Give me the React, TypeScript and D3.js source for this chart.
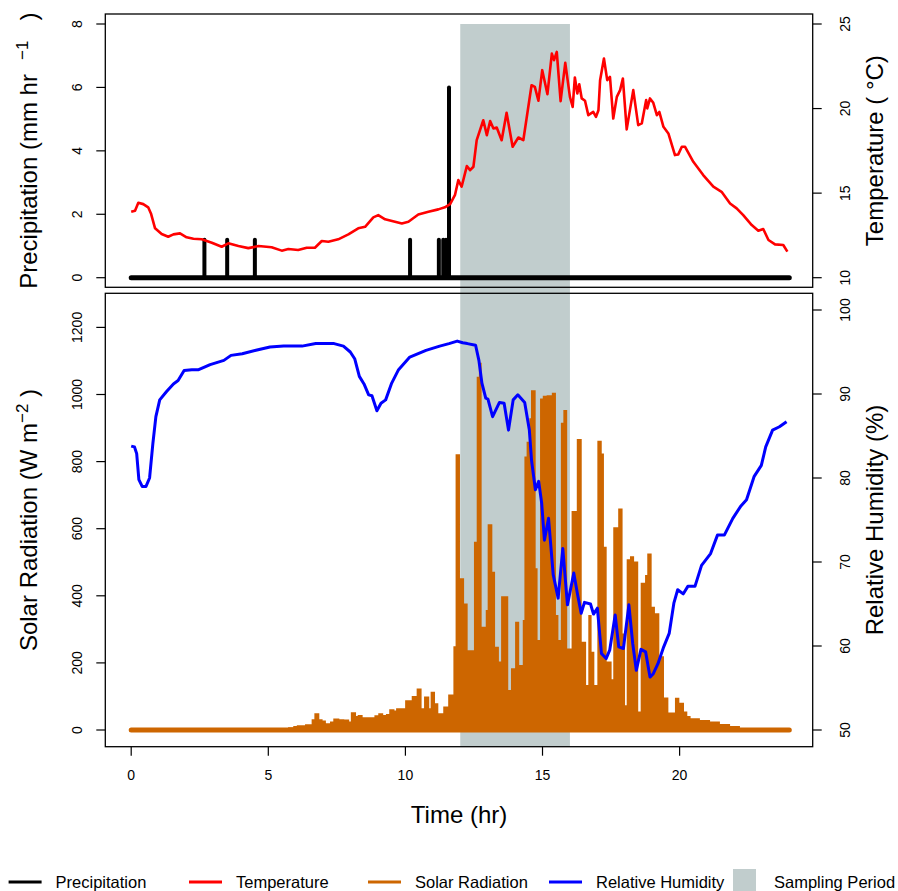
import * as d3 from "d3";

// hours of the day
const tempTime = [0, 0.14, 0.26, 0.44, 0.62, 0.72, 0.87, 1.11, 1.35, 1.54, 1.78, 2.02, 2.27, 2.57, 2.94, 3.3, 3.54, 3.91, 4.27, 4.64, 5.12, 5.49, 5.73, 6.09, 6.4, 6.7, 6.95, 7.19, 7.55, 7.92, 8.28, 8.53, 8.83, 9.01, 9.26, 9.62, 9.87, 10.11, 10.47, 10.84, 11.2, 11.44, 11.63, 11.81, 11.93, 12.05, 12.24, 12.36, 12.48, 12.6, 12.84, 12.97, 13.09, 13.21, 13.33, 13.51, 13.69, 13.91, 14.12, 14.3, 14.6, 14.72, 14.85, 14.99, 15.18, 15.34, 15.42, 15.52, 15.66, 15.83, 16.0, 16.1, 16.18, 16.27, 16.34, 16.43, 16.55, 16.67, 16.85, 16.95, 17.04, 17.1, 17.24, 17.36, 17.46, 17.58, 17.71, 17.83, 17.93, 18.07, 18.31, 18.49, 18.62, 18.78, 18.82, 18.92, 19.04, 19.17, 19.26, 19.41, 19.59, 19.83, 19.95, 20.08, 20.2, 20.5, 20.86, 21.23, 21.53, 21.84, 22.08, 22.32, 22.63, 22.87, 23.05, 23.24, 23.48, 23.78, 23.93];
const tempValue = [13.9, 13.96, 14.43, 14.35, 14.16, 13.8, 12.92, 12.58, 12.42, 12.56, 12.62, 12.39, 12.3, 12.27, 12.07, 11.83, 12.03, 11.87, 11.75, 11.87, 11.8, 11.6, 11.7, 11.64, 11.77, 11.77, 12.17, 12.13, 12.27, 12.56, 12.92, 13.01, 13.57, 13.7, 13.45, 13.31, 13.21, 13.31, 13.74, 13.9, 14.04, 14.16, 14.35, 14.9, 15.77, 15.38, 16.6, 16.36, 16.56, 18.13, 19.31, 18.43, 19.26, 18.82, 18.88, 18.13, 19.75, 17.74, 18.29, 18.13, 21.38, 21.28, 20.46, 22.27, 20.85, 23.25, 22.86, 23.35, 20.44, 22.7, 20.69, 20.1, 21.84, 20.89, 21.44, 20.6, 20.46, 19.61, 19.8, 19.51, 19.9, 21.68, 22.96, 21.68, 21.87, 19.41, 20.69, 21.09, 21.78, 18.77, 21.09, 19.02, 19.12, 20.5, 20.01, 20.6, 20.34, 19.61, 19.8, 18.92, 18.53, 17.25, 17.29, 17.74, 17.74, 16.85, 16.07, 15.38, 15.08, 14.39, 14.1, 13.7, 13.11, 12.78, 12.88, 12.23, 11.97, 11.93, 11.54];

const precipTime = [2.67, 3.5, 4.51, 10.17, 11.22, 11.38, 11.48, 11.59];
const precipValue = [1.2, 1.2, 1.2, 1.2, 1.2, 1.2, 1.2, 6.0];

const rhTime = [0, 0.12, 0.2, 0.28, 0.4, 0.54, 0.67, 0.79, 0.9, 1.04, 1.29, 1.54, 1.71, 1.93, 2.21, 2.46, 2.88, 3.38, 3.64, 4.05, 4.55, 5.06, 5.56, 6.23, 6.73, 7.07, 7.4, 7.74, 7.99, 8.15, 8.32, 8.49, 8.66, 8.78, 8.96, 9.11, 9.28, 9.5, 9.75, 10.16, 10.75, 11.25, 11.59, 11.89, 12.09, 12.26, 12.56, 12.68, 12.79, 12.93, 13.01, 13.18, 13.43, 13.6, 13.76, 13.93, 14.1, 14.35, 14.52, 14.6, 14.74, 14.86, 14.97, 15.07, 15.22, 15.39, 15.57, 15.74, 15.91, 16.14, 16.28, 16.41, 16.53, 16.75, 16.86, 17.0, 17.15, 17.32, 17.45, 17.65, 17.78, 17.95, 18.15, 18.29, 18.42, 18.59, 18.76, 18.92, 19.04, 19.21, 19.42, 19.62, 19.79, 19.93, 20.13, 20.3, 20.56, 20.8, 21.13, 21.38, 21.63, 21.94, 22.22, 22.44, 22.72, 22.98, 23.14, 23.39, 23.64, 23.9];
const rhValue = [83.8, 83.7, 82.9, 79.8, 79.0, 79.0, 80.0, 84.1, 87.3, 89.3, 90.3, 91.2, 91.6, 92.8, 92.9, 92.9, 93.5, 94.0, 94.6, 94.8, 95.2, 95.6, 95.7, 95.7, 96.0, 96.0, 96.0, 95.7, 95.0, 94.2, 92.1, 91.2, 89.9, 89.8, 88.0, 88.9, 89.3, 91.3, 92.9, 94.4, 95.2, 95.7, 96.0, 96.3, 96.1, 96.0, 95.8, 94.0, 91.3, 89.5, 89.4, 87.3, 89.0, 88.9, 85.7, 89.3, 89.9, 89.0, 85.7, 82.1, 78.6, 79.6, 77.0, 72.6, 75.2, 68.5, 65.7, 71.6, 64.9, 68.7, 66.1, 63.9, 65.2, 65.0, 63.8, 64.5, 59.1, 58.5, 59.5, 63.7, 59.9, 59.7, 64.9, 60.3, 57.1, 59.6, 59.3, 56.3, 56.7, 57.9, 59.9, 61.5, 65.1, 66.7, 66.2, 67.1, 67.1, 69.6, 71.0, 73.2, 73.2, 75.2, 76.6, 77.4, 80.2, 81.5, 83.7, 85.7, 86.1, 86.7];

// start of each solar radiation bar (hr) and its value (W m-2)
const solarStart = [5.72, 5.91, 6.04, 6.34, 6.58, 6.68, 6.86, 6.98, 7.1, 7.25, 7.37, 7.59, 7.77, 7.95, 8.01, 8.2, 8.26, 8.44, 8.87, 9.01, 9.19, 9.29, 9.41, 9.6, 9.66, 9.99, 10.23, 10.41, 10.59, 10.68, 10.87, 10.92, 11.08, 11.2, 11.38, 11.56, 11.75, 11.83, 11.99, 12.14, 12.27, 12.5, 12.6, 12.68, 12.78, 12.93, 13.0, 13.17, 13.27, 13.41, 13.49, 13.75, 13.85, 14.0, 14.15, 14.28, 14.34, 14.42, 14.52, 14.58, 14.75, 14.82, 14.91, 15.01, 15.15, 15.34, 15.49, 15.58, 15.67, 15.76, 15.9, 16.06, 16.25, 16.43, 16.59, 16.67, 16.79, 16.89, 17.0, 17.16, 17.24, 17.34, 17.52, 17.58, 17.76, 17.92, 18.01, 18.07, 18.19, 18.34, 18.49, 18.58, 18.74, 18.82, 18.98, 19.1, 19.26, 19.43, 19.59, 19.83, 19.99, 20.16, 20.28, 20.4, 20.74, 21.11, 21.47, 21.84, 22.2, 22.57];
const solarValue = [8, 12, 14, 17, 32, 50, 32, 28, 20, 25, 34, 32, 31, 25, 53, 42, 45, 38, 44, 50, 45, 48, 62, 58, 65, 89, 101, 124, 65, 100, 65, 114, 80, 50, 70, 106, 250, 822, 452, 377, 238, 561, 1053, 1095, 308, 358, 613, 472, 248, 204, 399, 119, 184, 323, 194, 328, 815, 859, 929, 1013, 482, 268, 988, 996, 998, 1005, 343, 268, 916, 954, 243, 653, 867, 263, 134, 343, 233, 134, 862, 824, 546, 204, 151, 604, 660, 288, 74, 509, 518, 502, 55, 439, 462, 526, 367, 348, 220, 97, 52, 96, 81, 55, 42, 35, 30, 25, 18, 12, 6, 0];

const samplingPeriod = [12, 16];
const dayRange = [0, 24];

const xTicks = [0, 5, 10, 15, 20];
const precipTicks = [0, 2, 4, 6, 8];
const tempTicks = [10, 15, 20, 25];
const solarTicks = [0, 200, 400, 600, 800, 1000, 1200];
const rhTicks = [50, 60, 70, 80, 90, 100];

const legendNames = ["Precipitation", "Temperature", "Solar Radiation", "Relative Humidity", "Sampling Period"];

const RED = "#FF0000";
const BLUE = "#0000FF";
const ORANGE = "#CD6600";
const GREY = "#C1CDCD";
const FONT = "'Liberation Sans', Arial, Helvetica, sans-serif";

export default function App() {
  const width = 898,
    height = 891;
  const box = { left: 105.3, right: 812.7 };
  const top = { y0: 14, y1: 287.3 };
  const bot = { y0: 293.3, y1: 746.7 };

  const x = d3.scaleLinear().domain([0, 24]).range([131.2, 789.3]);
  const yPrecip = d3.scaleLinear().domain([0, 8]).range([277.7, 24]);
  const yTemp = d3.scaleLinear().domain([10, 25]).range([277.7, 24]);
  const ySolar = d3.scaleLinear().domain([0, 1200]).range([730, 327.4]);
  const yRH = d3.scaleLinear().domain([50, 100]).range([730, 310]);

  const tempLine = d3
    .line<number>()
    .x((d, i) => x(tempTime[i]))
    .y((d) => yTemp(d));
  const rhLine = d3
    .line<number>()
    .x((d, i) => x(rhTime[i]))
    .y((d) => yRH(d));
  const solarArea = d3
    .area<number>()
    .x((d, i) => x(solarStart[i]))
    .y0(ySolar(0))
    .y1((d) => ySolar(d))
    .curve(d3.curveStepAfter);

  const tick = 9;
  const titleSize = 24;
  const tickSize = 14;

  const legendX = [8.6, 189, 368, 549, 733];
  const legendColors = ["#000", RED, ORANGE, BLUE, GREY];

  return (
    <svg
      width={width}
      height={height}
      style={{ position: "absolute", left: 0, top: 0, background: "#fff" }}
      fontFamily={FONT}
    >
      {/* sampling period */}
      <rect
        x={x(samplingPeriod[0])}
        width={x(samplingPeriod[1]) - x(samplingPeriod[0])}
        y={yPrecip(8)}
        height={bot.y1 - yPrecip(8)}
        fill={GREY}
      />

      {/* top panel: precipitation + temperature */}
      <line
        x1={x(dayRange[0])}
        x2={x(dayRange[1])}
        y1={yPrecip(0)}
        y2={yPrecip(0)}
        stroke="#000"
        strokeWidth={5}
        strokeLinecap="round"
      />
      {precipValue.map((v, i) => (
        <line
          key={i}
          x1={x(precipTime[i])}
          x2={x(precipTime[i])}
          y1={yPrecip(0)}
          y2={yPrecip(v)}
          stroke="#000"
          strokeWidth={4}
          strokeLinecap="round"
        />
      ))}
      <path d={tempLine(tempValue) || ""} fill="none" stroke={RED} strokeWidth={2.6} strokeLinejoin="round" />

      {/* bottom panel: solar radiation + RH */}
      <line
        x1={x(dayRange[0])}
        x2={x(dayRange[1])}
        y1={ySolar(0)}
        y2={ySolar(0)}
        stroke={ORANGE}
        strokeWidth={5}
        strokeLinecap="round"
      />
      <path d={solarArea(solarValue) || ""} fill={ORANGE} />
      <path d={rhLine(rhValue) || ""} fill="none" stroke={BLUE} strokeWidth={3} strokeLinejoin="round" />

      {/* boxes */}
      <rect x={box.left} y={top.y0} width={box.right - box.left} height={top.y1 - top.y0} fill="none" stroke="#000" strokeWidth={1.3} />
      <rect x={box.left} y={bot.y0} width={box.right - box.left} height={bot.y1 - bot.y0} fill="none" stroke="#000" strokeWidth={1.3} />

      {/* left axis top */}
      {precipTicks.map((t) => (
        <g key={"p" + t}>
          <line x1={box.left - tick} x2={box.left} y1={yPrecip(t)} y2={yPrecip(t)} stroke="#000" strokeWidth={1.2} />
          <text transform={`translate(81.5,${yPrecip(t)}) rotate(-90)`} textAnchor="middle" fontSize={tickSize}>
            {t}
          </text>
        </g>
      ))}
      {/* right axis top */}
      {tempTicks.map((t) => (
        <g key={"t" + t}>
          <line x1={box.right} x2={box.right + tick} y1={yTemp(t)} y2={yTemp(t)} stroke="#000" strokeWidth={1.2} />
          <text transform={`translate(850,${yTemp(t)}) rotate(-90)`} textAnchor="middle" fontSize={tickSize}>
            {t}
          </text>
        </g>
      ))}
      {/* left axis bottom */}
      {solarTicks.map((t) => (
        <g key={"s" + t}>
          <line x1={box.left - tick} x2={box.left} y1={ySolar(t)} y2={ySolar(t)} stroke="#000" strokeWidth={1.2} />
          <text transform={`translate(81.5,${ySolar(t)}) rotate(-90)`} textAnchor="middle" fontSize={tickSize}>
            {t}
          </text>
        </g>
      ))}
      {/* right axis bottom */}
      {rhTicks.map((t) => (
        <g key={"r" + t}>
          <line x1={box.right} x2={box.right + tick} y1={yRH(t)} y2={yRH(t)} stroke="#000" strokeWidth={1.2} />
          <text transform={`translate(850,${yRH(t)}) rotate(-90)`} textAnchor="middle" fontSize={tickSize}>
            {t}
          </text>
        </g>
      ))}
      {/* x axis */}
      {xTicks.map((t) => (
        <g key={"x" + t}>
          <line x1={x(t)} x2={x(t)} y1={bot.y1} y2={bot.y1 + tick} stroke="#000" strokeWidth={1.2} />
          <text x={x(t)} y={780} textAnchor="middle" fontSize={tickSize}>
            {t}
          </text>
        </g>
      ))}

      {/* axis titles */}
      <text
        transform={`translate(37,${(top.y0 + top.y1) / 2}) rotate(-90)`}
        textAnchor="middle"
        fontSize={titleSize}
        style={{ whiteSpace: "pre" }}
      >
        {"Precipitation (mm hr"}
        <tspan dy={-9} fontSize={17}>
          {"   \u22121"}
        </tspan>
        <tspan dy={9}>{"   )"}</tspan>
      </text>
      <text
        transform={`translate(37,${(bot.y0 + bot.y1) / 2}) rotate(-90)`}
        textAnchor="middle"
        fontSize={titleSize}
        style={{ whiteSpace: "pre" }}
      >
        {"Solar Radiation (W m"}
        <tspan dy={-9} fontSize={17}>
          {"\u22122"}
        </tspan>
        <tspan dy={9}>{" )"}</tspan>
      </text>
      <text transform={`translate(883,${(top.y0 + top.y1) / 2}) rotate(-90)`} textAnchor="middle" fontSize={titleSize}>
        Temperature ( °C)
      </text>
      <text transform={`translate(883,${(bot.y0 + bot.y1) / 2}) rotate(-90)`} textAnchor="middle" fontSize={titleSize}>
        Relative Humidity (%)
      </text>
      <text x={(box.left + box.right) / 2} y={823} textAnchor="middle" fontSize={titleSize}>
        Time (hr)
      </text>

      {/* legend */}
      {legendNames.map((name, i) =>
        i < 4 ? (
          <g key={name}>
            <line x1={legendX[i]} x2={legendX[i] + 33} y1={882} y2={882} stroke={legendColors[i]} strokeWidth={3} />
            <text x={legendX[i] + 47} y={888} fontSize={16.5}>
              {name}
            </text>
          </g>
        ) : (
          <g key={name}>
            <rect x={legendX[i]} y={869} width={23} height={24} fill={legendColors[i]} />
            <text x={legendX[i] + 41} y={888} fontSize={16.5}>
              {name}
            </text>
          </g>
        )
      )}
    </svg>
  );
}
